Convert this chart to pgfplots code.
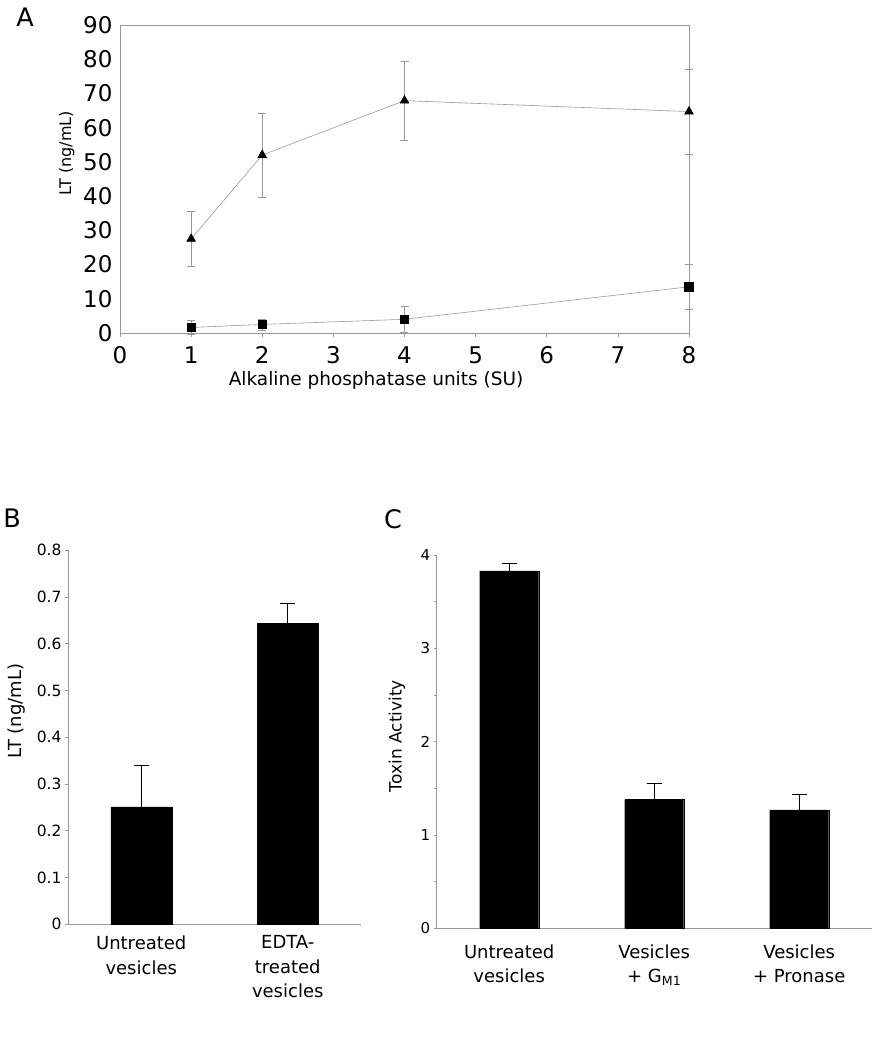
\documentclass[border=0pt]{standalone}
\usepackage{fontspec}
\setmainfont{DejaVu Sans}
\usepackage{pgfplots}
\pgfplotsset{compat=1.18}
\definecolor{axgray}{gray}{0.6}
\begin{document}
\begin{tikzpicture}[x=1pt,y=1pt]
\path[use as bounding box] (0,0) rectangle (875,1050);

% ---------------- Panel A ----------------
\begin{axis}[
  scale only axis, width=569pt, height=308pt,
  at={(120pt,717pt)}, anchor=south west,
  xmin=0, xmax=8, ymin=0, ymax=90,
  xtick={0,...,8}, ytick={0,10,...,90},
  tick pos=left, tick align=outside,
  axis line style={axgray, line width=0.6pt},
  xtick style={axgray, line width=0.6pt},
  ytick style={draw=none},
  major tick length=4pt,
  /pgf/number format/assume math mode=true,
  ticklabel style={font=\fontsize{23}{23}\selectfont},
  xticklabel style={yshift=-6pt},
  xlabel={Alkaline phosphatase units (SU)},
  xlabel style={at={(axis description cs:0.45,-0.1526)}, anchor=center, font=\fontsize{18.5}{20}\selectfont},
  ylabel={LT (ng/mL)},
  ylabel style={at={(axis description cs:-0.0937,0.584)}, anchor=center, font=\fontsize{16}{18}\selectfont},
  clip=false,
]
\addplot[axgray, line width=0.6pt, mark=triangle*, mark options={black, solid, fill=black, mark size=5pt},
  error bars/.cd, y dir=both, y explicit,
  error bar style={axgray, line width=0.6pt},
  error mark options={rotate=90, axgray, mark size=4pt, line width=0.6pt}]
coordinates {(1,27.5) +- (0,8.0) (2,52.0) +- (0,12.3) (4,67.9) +- (0,11.5) (8,64.7) +- (0,12.4)};
\addplot[axgray, line width=0.6pt, mark=square*, mark options={black, solid, fill=black, mark size=4.2pt},
  error bars/.cd, y dir=both, y explicit,
  error bar style={axgray, line width=0.6pt},
  error mark options={rotate=90, axgray, mark size=4pt, line width=0.6pt}]
coordinates {(1,1.6) +- (0,2.0) (2,2.5) +- (0,1.6) (4,4.0) +- (0,3.9) (8,13.5) +- (0,6.6)};
\end{axis}
\node[font=\fontsize{25.5}{26}\selectfont] at (25,1033) {A};

% ---------------- Panel B ----------------
\begin{axis}[
  scale only axis, width=293pt, height=374pt,
  at={(68pt,125.7pt)}, anchor=south west,
  xmin=-0.5, xmax=1.5, ymin=0, ymax=0.8,
  axis x line*=bottom, axis y line*=left,
  xtick={0,1},
  xticklabels={{Untreated\\vesicles},{EDTA-\\treated\\vesicles}},
  ytick={0,0.1,0.2,0.3,0.4,0.5,0.6,0.7,0.8},
  tick align=outside,
  axis line style={axgray, line width=0.6pt},
  ytick style={axgray, line width=0.6pt},
  xtick style={draw=none},
  major tick length=3pt,
  /pgf/number format/assume math mode=true,
  yticklabel style={font=\fontsize{15.5}{16}\selectfont, /pgf/number format/.cd, fixed, precision=1},
  xticklabel style={font=\fontsize{18}{24.5}\selectfont, align=center, yshift=-5pt},
  ylabel={LT (ng/mL)},
  ylabel style={at={(axis description cs:-0.174,0.570)}, anchor=center, font=\fontsize{18}{20}\selectfont},
  clip=false,
]
\addplot[ybar, bar width=61pt, bar shift=0pt, fill=black, draw=black,
  error bars/.cd, y dir=plus, y explicit,
  error bar style={black, line width=1.3pt},
  error mark options={rotate=90, black, mark size=7.5pt, line width=1.3pt}]
coordinates {(0,0.251) +- (0,0.089) (1,0.644) +- (0,0.042)};
\end{axis}
\node[font=\fontsize{25.5}{26}\selectfont] at (12,532) {B};

% ---------------- Panel C ----------------
\begin{axis}[
  scale only axis, width=435pt, height=373.3pt,
  at={(436.7pt,121.7pt)}, anchor=south west,
  xmin=-0.5, xmax=2.5, ymin=0, ymax=4,
  axis x line*=bottom, axis y line*=left,
  xtick={0,1,2},
  xticklabels={{Untreated\\vesicles},{Vesicles\\+ G\textsubscript{M1}},{Vesicles\\+ Pronase}},
  ytick={0,1,2,3,4},
  minor ytick={0.5,1.5,2.5,3.5},
  tick align=outside,
  axis line style={axgray, line width=0.6pt},
  ytick style={axgray, line width=0.6pt},
  xtick style={draw=none},
  major tick length=3pt, minor tick length=3pt,
  /pgf/number format/assume math mode=true,
  yticklabel style={font=\fontsize{15}{16}\selectfont},
  xticklabel style={font=\fontsize{18}{24}\selectfont, align=center, yshift=-10pt},
  ylabel={Toxin Activity},
  ylabel style={at={(axis description cs:-0.0913,0.515)}, anchor=center, font=\fontsize{17}{19}\selectfont},
  clip=false,
]
\addplot[ybar, bar width=59pt, bar shift=0pt, fill=black, draw=black,
  error bars/.cd, y dir=plus, y explicit,
  error bar style={black, line width=1.3pt},
  error mark options={rotate=90, black, mark size=7.5pt, line width=1.3pt}]
coordinates {(0,3.83) +- (0,0.08) (1,1.38) +- (0,0.17) (2,1.27) +- (0,0.16)};
\end{axis}
\node[font=\fontsize{25.5}{26}\selectfont] at (393,531) {C};
\end{tikzpicture}
\end{document}
